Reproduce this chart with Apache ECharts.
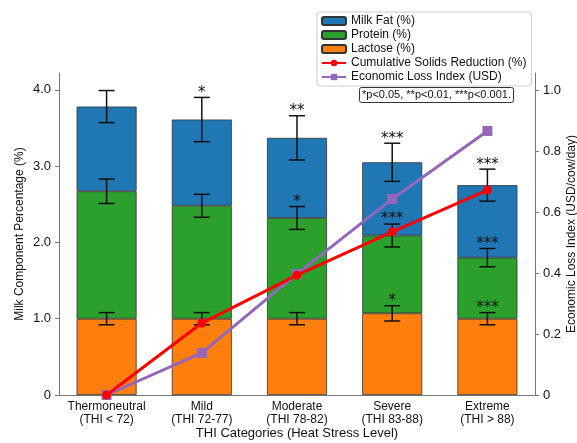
<!DOCTYPE html>
<html>
<head>
<meta charset="utf-8">
<script src="https://cdn.jsdelivr.net/npm/echarts@6/dist/echarts.min.js"></script>
<style>
html,body{margin:0;padding:0;background:#fff;}
#chart{width:577px;height:443px;}
</style>
</head>
<body>
<div id="chart"></div>
<script>
var categories = ['Thermoneutral\n(THI < 72)', 'Mild\n(THI 72-77)', 'Moderate\n(THI 78-82)', 'Severe\n(THI 83-88)', 'Extreme\n(THI > 88)'];
// stacked components (%)
var lactose = [1.00, 1.00, 1.00, 1.07, 1.00];
var protein = [1.67, 1.48, 1.32, 1.02, 0.80];
var fat     = [1.11, 1.13, 1.05, 0.96, 0.95];
// error bar half-widths
var lactoseErr = [0.08, 0.08, 0.08, 0.10, 0.08];
var proteinErr = [0.16, 0.15, 0.15, 0.15, 0.12];
var fatErr     = [0.21, 0.29, 0.29, 0.25, 0.21];
// significance marks
var lactoseSig = ['', '', '', '*', '***'];
var proteinSig = ['', '', '*', '***', '***'];
var fatSig     = ['', '*', '**', '***', '***'];
// right axis lines
var cumReduction = [0, 0.236, 0.393, 0.535, 0.672];
var econLoss     = [0, 0.138, 0.397, 0.643, 0.866];
var leftTicks  = [0, 1, 2, 3, 4];
var rightTicks = [0, 0.2, 0.4, 0.6, 0.8, 1.0];

var font = 'Liberation Sans';
var chart = echarts.init(document.getElementById('chart'));

// error bar data: [cat, top of segment, err, stars]
var errData = [];
for (var i = 0; i < categories.length; i++) {
	var l = lactose[i], p = l + protein[i], f = p + fat[i];
	errData.push([i, l, lactoseErr[i], lactoseSig[i]]);
	errData.push([i, p, proteinErr[i], proteinSig[i]]);
	errData.push([i, f, fatErr[i], fatSig[i]]);
}

function fmt(v){ return v === 0 ? '0' : v.toFixed(1); }

chart.setOption({
	animation : false,
	textStyle : { fontFamily : font },
	title : {
		text : '*p<0.05, **p<0.01, ***p<0.001.',
		left : 359, top : 87,
		padding : [2, 3],
		borderColor : '#333', borderWidth : 1, borderRadius : 2,
		backgroundColor : '#fff',
		textStyle : { fontSize : 11, lineHeight : 12, fontWeight : 'normal', color : '#111', fontFamily : font }
	},
	legend : {
		orient : 'vertical',
		left : 317, top : 12,
		padding : [2, 5, 2, 4],
		itemWidth : 24, itemHeight : 8, itemGap : 0,
		backgroundColor : '#fff',
		borderColor : '#ccc', borderWidth : 1, borderRadius : 3,
		textStyle : { fontSize : 12, lineHeight : 14, color : '#111', fontFamily : font },
		data : ['Milk Fat (%)', 'Protein (%)', 'Lactose (%)', 'Cumulative Solids Reduction (%)', 'Economic Loss Index (USD)']
	},
	grid : { left : 59, right : 42, top : 73, bottom : 48, outerBoundsMode : 'none' },
	xAxis : [{
		type : 'category',
		data : categories,
		name : 'THI Categories (Heat Stress Level)',
		nameLocation : 'middle',
		nameGap : 32,
		nameMoveOverlap : false,
		nameTextStyle : { fontSize : 13, color : '#111' },
		axisLine : { lineStyle : { color : '#777' } },
		axisTick : { alignWithLabel : true, length : 4, lineStyle : { color : '#777' } },
		axisLabel : { interval : 0, fontSize : 12, lineHeight : 13, color : '#111', margin : 5 }
	}],
	yAxis : [
		{
			type : 'value', min : 0, max : 4.22,
			name : 'Milk Component Percentage (%)',
			nameLocation : 'middle', nameRotate : 90, nameGap : 33,
			nameMoveOverlap : false,
			nameTextStyle : { fontSize : 12, color : '#111' },
			splitLine : { show : false },
			axisLine : { show : true, lineStyle : { color : '#777' } },
			axisTick : { show : true, length : 4, customValues : leftTicks, lineStyle : { color : '#777' } },
			axisLabel : { fontSize : 13, color : '#111', margin : 8, customValues : leftTicks, formatter : fmt }
		},
		{
			type : 'value', min : 0, max : 1.056,
			name : 'Economic Loss Index (USD/cow/day)',
			nameLocation : 'middle', nameRotate : 90, nameGap : 31,
			nameMoveOverlap : false,
			nameTextStyle : { fontSize : 12, color : '#111' },
			splitLine : { show : false },
			axisLine : { show : true, lineStyle : { color : '#777' } },
			axisTick : { show : true, length : 4, customValues : rightTicks, lineStyle : { color : '#777' } },
			axisLabel : { fontSize : 13, color : '#111', margin : 8, customValues : rightTicks, formatter : fmt }
		}
	],
	series : [
		{
			name : 'Lactose (%)', type : 'bar', stack : 'milk', barWidth : 60,
			itemStyle : { color : '#ff7f0e', borderColor : '#333', borderWidth : 0.8 },
			data : lactose
		},
		{
			name : 'Protein (%)', type : 'bar', stack : 'milk', barWidth : 60,
			itemStyle : { color : '#2ca02c', borderColor : '#333', borderWidth : 0.8 },
			data : protein
		},
		{
			name : 'Milk Fat (%)', type : 'bar', stack : 'milk', barWidth : 60,
			itemStyle : { color : '#1f77b4', borderColor : '#333', borderWidth : 0.8 },
			data : fat
		},
		{
			name : 'errors', type : 'custom', z : 3,
			data : errData,
			encode : { x : 0, y : 1 },
			renderItem : function(params, api){
				var x = api.value(0), top = api.value(1), e = api.value(2);
				var stars = errData[params.dataIndex][3];
				var hi = api.coord([x, top + e]);
				var lo = api.coord([x, top - e]);
				var s = { stroke : '#111', lineWidth : 1.5 };
				var ch = [
					{ type : 'line', shape : { x1 : hi[0], y1 : hi[1], x2 : lo[0], y2 : lo[1] }, style : s },
					{ type : 'line', shape : { x1 : hi[0] - 8, y1 : hi[1], x2 : hi[0] + 8, y2 : hi[1] }, style : s },
					{ type : 'line', shape : { x1 : lo[0] - 8, y1 : lo[1], x2 : lo[0] + 8, y2 : lo[1] }, style : s }
				];
				if (stars) {
					ch.push({ type : 'text', x : hi[0], y : hi[1] + 3,
						style : { text : stars, textAlign : 'center', textVerticalAlign : 'bottom',
							fontSize : 15, fill : '#111', fontFamily : 'DejaVu Sans' } });
				}
				return { type : 'group', children : ch };
			}
		},
		{
			name : 'Cumulative Solids Reduction (%)', type : 'line', yAxisIndex : 1, z : 5,
			symbol : 'circle', symbolSize : 9,
			itemStyle : { color : '#ff0000' },
			lineStyle : { color : '#ff0000', width : 3 },
			data : cumReduction
		},
		{
			name : 'Economic Loss Index (USD)', type : 'line', yAxisIndex : 1, z : 4,
			symbol : 'rect', symbolSize : 10,
			itemStyle : { color : '#9467bd' },
			lineStyle : { color : '#9467bd', width : 3 },
			data : econLoss
		}
	]
});
</script>
</body>
</html>
